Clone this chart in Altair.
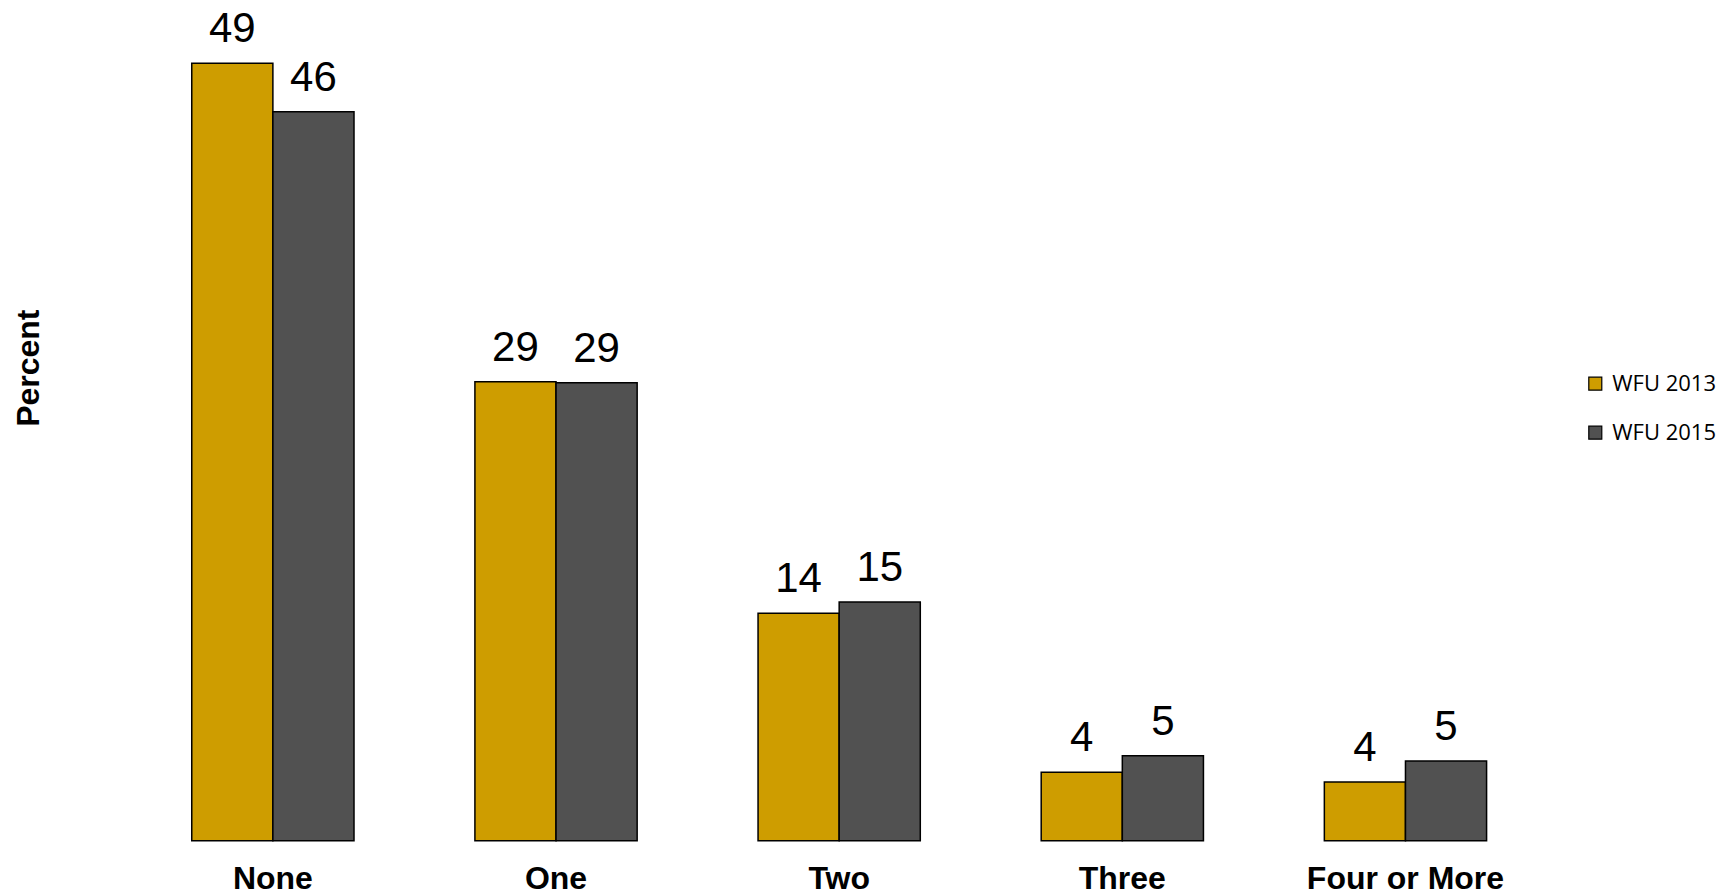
import altair as alt
import pandas as pd

categories = ["None", "One", "Two", "Three", "Four or More"]
series = ["WFU 2013", "WFU 2015"]
values_2013 = [49.0, 28.93, 14.33, 4.31, 3.70]
values_2015 = [45.95, 28.87, 15.04, 5.36, 5.02]
colors = ["#CE9D00", "#515151"]

rows = []
for c, v in zip(categories, values_2013):
    rows.append({"cat": c, "series": series[0], "value": v})
for c, v in zip(categories, values_2015):
    rows.append({"cat": c, "series": series[1], "value": v})
df = pd.DataFrame(rows)

x_enc = alt.X("cat:N", sort=categories,
              scale=alt.Scale(paddingInner=0.427, paddingOuter=0.2135),
              axis=alt.Axis(title=None, labelAngle=0, domain=False, ticks=False,
                            labelFont="Liberation Sans", labelFontSize=32,
                            labelFontWeight="bold", labelColor="black",
                            labelPadding=23, labelLimit=1000))
xo_enc = alt.XOffset("series:N", sort=series, scale=alt.Scale(paddingInner=0, paddingOuter=0))
y_enc = alt.Y("value:Q", scale=alt.Scale(domain=[0, 52], nice=False, zero=True),
              axis=alt.Axis(title="Percent", labels=False, ticks=False, domain=False,
                            grid=False, titleFont="Liberation Sans", titleFontSize=32,
                            titleFontWeight="bold", titleColor="black",
                            titleAngle=270, titleX=-103, titleY=352,
                            titleAlign="center", titleBaseline="middle"))

base = alt.Chart(df)

bars = base.mark_bar(stroke="black", strokeWidth=1.5).encode(
    x=x_enc, xOffset=xo_enc, y=y_enc,
    color=alt.Color("series:N", sort=series,
                    scale=alt.Scale(domain=series, range=colors),
                    legend=alt.Legend(title=None, orient="none", legendX=1453, legendY=357,
                                      symbolType="square", symbolSize=169,
                                      symbolStrokeColor="black", symbolStrokeWidth=1.2,
                                      labelFont="Open Sans", labelFontSize=22,
                                      labelColor="black", labelOffset=6,
                                      rowPadding=27, padding=0)),
)

labels = base.mark_text(font="Liberation Sans", fontSize=42, color="black",
                        baseline="alphabetic", dy=-21).encode(
    x=x_enc, xOffset=xo_enc, y=y_enc,
    text=alt.Text("value:Q", format=".0f"),
)

chart = alt.layer(bars, labels).properties(
    width=1415.75, height=825,
    padding={"left": 123.3, "top": 7.7, "right": 173, "bottom": 60},
    autosize="none",
    background="white",
).configure_view(stroke=None)

chart.save("out.html", embed_options={"renderer": "svg", "actions": False})
